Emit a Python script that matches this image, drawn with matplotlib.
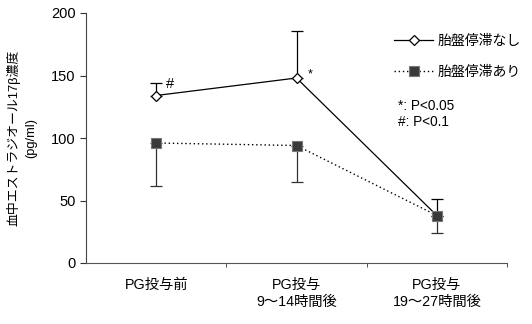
import numpy as np
import matplotlib
matplotlib.use('Agg')
from matplotlib import pyplot as plt

plt.rcParams['font.family'] = ['Liberation Sans', 'Noto Sans CJK JP']

# data
categories = ['PG投与前', 'PG投与\n9～14時間後', 'PG投与\n19～27時間後']
nashi = [134, 148, 38]
nashi_err_up = [10, 38, 13]
ari = [96, 94, 38]
ari_err_down = [34, 29, 14]
y_ticks = [0, 50, 100, 150, 200]

x = np.arange(len(categories))

fig = plt.figure(figsize=(5.32, 3.24), dpi=100)
ax = fig.add_axes([86/532, 61/324, 421/532, 250/324])

# error bars
ax.errorbar(x, nashi, yerr=[np.zeros(3), nashi_err_up], fmt='none',
            ecolor='black', elinewidth=0.9, capsize=4, capthick=0.9, zorder=2)
ax.errorbar(x, ari, yerr=[ari_err_down, np.zeros(3)], fmt='none',
            ecolor='#333333', elinewidth=0.9, capsize=4, capthick=0.9, zorder=2)

# lines
ax.plot(x, nashi, linestyle='-', color='black', linewidth=0.9,
        marker='D', markersize=5.5, markerfacecolor='white',
        markeredgecolor='black', markeredgewidth=0.9,
        label='胎盤停滞なし', zorder=3)
ax.plot(x, ari, linestyle=(0, (1, 2)), color='black', linewidth=1,
        marker='s', markersize=7, markerfacecolor='#3a3a3a',
        markeredgecolor='#777777', markeredgewidth=0.8,
        label='胎盤停滞あり', zorder=4)

# significance marks
ax.text(x[0] + 0.07, nashi[0] + 4, '#', fontsize=10.5, ha='left', va='bottom')
ax.text(x[1] + 0.08, nashi[1] - 2, '*', fontsize=9, ha='left', va='bottom')

ax.set_xlim(-0.5, 2.5)
ax.set_ylim(0, 200)
ax.set_yticks(y_ticks)
ax.set_xticks(x)
ax.set_xticklabels(categories, fontsize=10.3, linespacing=1.25)
ax.set_xticks([0.5, 1.5, 2.5], minor=True)
ax.tick_params(axis='x', which='major', length=0, pad=11)
ax.tick_params(axis='x', which='minor', length=3, direction='out', color='#333333')
ax.tick_params(axis='y', length=4, direction='out', labelsize=10.5, color='#333333')
ax.spines['top'].set_visible(False)
ax.spines['right'].set_visible(False)
ax.spines['left'].set_color('#444444')
ax.spines['bottom'].set_color('#555555')

ax.set_ylabel('血中エストラジオール17β濃度\n(pg/ml)', fontsize=9.3, linespacing=1.55, labelpad=10)

ax.legend(loc='upper left', bbox_to_anchor=(0.703, 0.965),
          frameon=False, fontsize=10, handlelength=2.8, labelspacing=1.2, handletextpad=0.3)

ax.text(0.74, 0.655, '*: P<0.05\n#: P<0.1', transform=ax.transAxes, fontsize=9.8,
        ha='left', va='top', linespacing=1.15)

fig.savefig('out.png', dpi=100)
